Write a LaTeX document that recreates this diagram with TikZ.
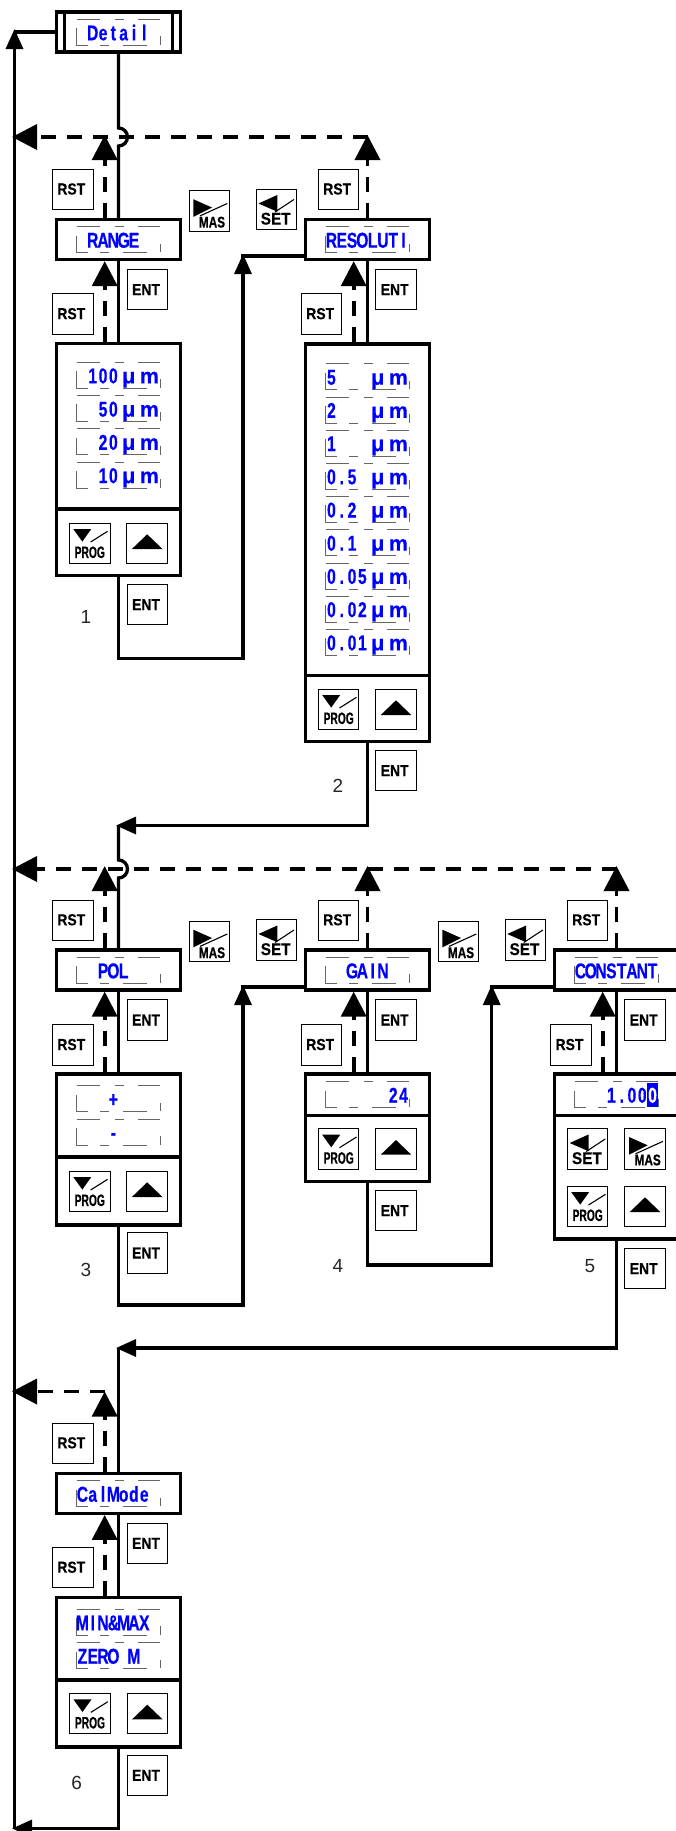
\documentclass[tikz,border=0pt]{standalone}
\usepackage{fontspec}
\usetikzlibrary{arrows.meta,calc}
\setmainfont{Liberation Sans}
\newfontfamily\lcdfont{Liberation Sans}[FakeStretch=0.73,BoldFeatures={FakeBold=0.35}]
\newfontfamily\lcdwide{Liberation Sans}[BoldFeatures={FakeBold=0.35}]
\newfontfamily\keyfont{Liberation Sans}[FakeStretch=0.87,BoldFeatures={FakeBold=0.25}]
\newfontfamily\progfont{Liberation Sans}[FakeStretch=0.62,BoldFeatures={FakeBold=0.4}]
\newfontfamily\masfont{Liberation Sans}[FakeStretch=0.76,BoldFeatures={FakeBold=0.5}]
\newfontfamily\setfont{Liberation Sans}[FakeStretch=0.9,BoldFeatures={FakeBold=0.4}]
\definecolor{lcdblue}{RGB}{0,0,255}
\newlength{\lcdcw}\setlength{\lcdcw}{10.3pt}
\def\lcdnext#1{\ifx#1\relax\else\lcdcell{#1}\expandafter\lcdnext\fi}
\def\lcdcell#1{\ifx#1_\hspace*{\lcdcw}\else\makebox[\lcdcw][c]{#1}\fi}
\newcommand{\lcdrow}[1]{\lcdnext#1\relax}
\newcommand{\lcdum}{\makebox[2\lcdcw][c]{\lcdwide\bfseries μ}\makebox[2\lcdcw][c]{\lcdwide\bfseries m}}
\newcommand{\lcdhl}[1]{\makebox[\lcdcw][c]{\textcolor{white}{#1}}}
\tikzset{
  bigtip/.tip={Triangle[length=25pt,width=25pt]},
  midtip/.tip={Triangle[length=20pt,width=17pt]},
  flow/.style={draw=black,line width=3.3pt},
  dashflow/.style={draw=black,line width=3.7pt,dash pattern=on 15pt off 11pt},
  dispbox/.style={draw=black,line width=3.3pt,fill=white,minimum width=124pt,inner sep=0pt},
  btn/.style={draw=black,line width=1pt,fill=white,minimum width=40.5pt,minimum height=40.5pt,inner sep=0pt},
  lcdtxt/.style={anchor=base,inner sep=0pt,text=lcdblue,font=\lcdfont\bfseries\fontsize{21.5}{21.5}\selectfont},
  seqno/.style={inner sep=0pt,text=black!85,font=\fontsize{19}{19}\selectfont},
  keytxt/.style={inner sep=0pt,text=black,font=\keyfont\bfseries\fontsize{16}{16}\selectfont},
  lcd/.pic={
    \draw[black!60,line width=.8pt]
      (-42,-13)--(-18.5,-13) (-3.5,-13)--(5.5,-13) (19.8,-13)--(41.5,-13)
      (-42,-4.2)--(-42,13)--(-31,13) (-18.5,13)--(-10,13) (4.8,13)--(28.2,13)
      (41.5,3.8)--(41.5,12.7);
    \node[lcdtxt] (-t) at (0,8) {#1};
  },
  rstbtn/.pic={\node[btn] (-b) at (0,0) {}; \node[keytxt] (-l) at (-1.5,-.5) {RST};},
  entbtn/.pic={\node[btn] (-b) at (0,0) {}; \node[keytxt] (-l) at (-1.3,0) {ENT};},
  upbtn/.pic={\node[btn] (-b) at (0,0) {}; \fill (0,-9)--(-15.3,5.7)--(15.3,5.7)--cycle;},
  progbtn/.pic={\node[btn] (-b) at (0,0) {};
    \fill (-16.5,-14.3)--(1.5,-14.3)--(-7.5,-1.7)--cycle;
    \draw[line width=1.1pt] (.8,-1.3)--(17.8,-12);
    \node[inner sep=0pt,font=\progfont\bfseries\fontsize{16.5}{16.5}\selectfont] (-l) at (0,9) {PROG};},
  masbtn/.pic={\node[btn] (-b) at (0,0) {};
    \fill (-16,-12)--(-16,5.7)--(2.7,-3.7)--cycle;
    \draw[line width=1.1pt] (-9.3,4.7)--(18,-7.7);
    \node[inner sep=0pt,font=\masfont\bfseries\fontsize{15.5}{15.5}\selectfont] (-l) at (2.7,11) {MAS};},
  setbtn/.pic={\node[btn] (-b) at (0,0) {};
    \fill (-18,-6)--(.8,-14.5)--(.8,2.2)--cycle;
    \draw[line width=1.1pt] (-1.5,2.5)--(17.5,-10);
    \node[inner sep=0pt,font=\setfont\bfseries\fontsize{17}{17}\selectfont] (-l) at (-.8,9.2) {SET};},
}
\begin{document}
\begin{tikzpicture}[x=1pt,y=-1pt]
\useasboundingbox (0,0) rectangle (676,1831);
\clip (0,0) rectangle (676,1831);
\fill[white] (0,0) rectangle (676,1831);

% boxes
\node[dispbox,minimum height=40pt] (detail) at (118.5,32) {};
\draw[line width=3pt] (64,12)--(64,52) (172.7,12)--(172.7,52);
\node[dispbox,minimum height=40pt] (range) at (118.5,239.5) {};
\node[dispbox,minimum height=40pt] (resoluti) at (367.5,239.5) {};
\node[dispbox,minimum height=232pt] (p1) at (118.5,459.7) {};
\node[dispbox,minimum height=397.5pt] (p2) at (367.5,542.7) {};
\draw[flow] (56.5,509)--(180.5,509) (305.5,675.5)--(429.5,675.5);
\node[dispbox,minimum height=40pt] (pol) at (118.5,970) {};
\node[dispbox,minimum height=40pt] (gain) at (367.5,970) {};
\node[dispbox,minimum height=40pt] (constant) at (616.5,970) {};
\node[dispbox,minimum height=151pt] (p3) at (118.5,1149.5) {};
\node[dispbox,minimum height=107.5pt] (p4) at (367.5,1127.7) {};
\node[dispbox,minimum height=165pt] (p5) at (616.5,1156.5) {};
\draw[flow] (56.5,1157)--(180.5,1157) (305.5,1115.5)--(429.5,1115.5) (554.5,1115.5)--(678.5,1115.5);
\node[dispbox,minimum height=40pt] (calmode) at (118.5,1493.3) {};
\node[dispbox,minimum height=149.5pt] (p6) at (118.5,1672.3) {};
\draw[flow] (56.5,1680)--(180.5,1680);

% way points
\coordinate (topup) at (14.5,29);
\coordinate (botleft) at (12,1828.5);
\coordinate (botmid) at (118.5,1828.5);
\coordinate (dl1) at (12,137);     \coordinate (dr1) at (367.5,137);
\coordinate (jump1) at (118.5,137);
\coordinate (tip1a) at (104.7,135); \coordinate (tip1b) at (367.5,135);
\coordinate (c1) at (243,658.5);   \coordinate (a1) at (243,254); \coordinate (h1) at (241.4,256);
\coordinate (c2) at (367.5,825.5); \coordinate (m2) at (116,825.5); \coordinate (n2) at (118.5,825.5);
\coordinate (dl2) at (12,869);     \coordinate (dr2) at (616.5,869);
\coordinate (jump2) at (118.5,869);
\coordinate (tip2a) at (104.7,866); \coordinate (tip2b) at (367.5,866); \coordinate (tip2c) at (616.5,866);
\coordinate (c3) at (243,1305);    \coordinate (a3) at (243,985); \coordinate (h3) at (241.4,987);
\coordinate (c4) at (491.7,1265);  \coordinate (a4) at (491.7,985); \coordinate (h4) at (490.1,987);
\coordinate (c5) at (616.5,1348);  \coordinate (m5) at (116,1348); \coordinate (n5) at (118.5,1348);
\coordinate (dl3) at (12,1391.5);  \coordinate (dr3) at (104.7,1391.5);

% solid connectors
\draw[flow,-midtip] (botmid -| topup) -- (topup);
\draw[flow,-midtip] (p6.south) -- (botmid) -- (botleft);
\draw[flow] (detail.west) -- (detail.west -| topup);
\draw[flow] (detail.south) -- ([yshift=9pt]jump1) arc[start angle=90,end angle=-90,radius=9pt] -- (range.north);
\draw[flow] (range.south) -- (p1.north);
\draw[flow,-midtip] (p1.south) |- (c1) -- (a1);
\draw[flow] (resoluti.west |- h1) -- (h1);
\draw[flow] (resoluti.south) -- (p2.north);
\draw[flow,-midtip] (p2.south) -- (c2) -- (m2);
\draw[flow] (n2) -- ([yshift=9pt]jump2) arc[start angle=90,end angle=-90,radius=9pt] -- (pol.north);
\draw[flow] (pol.south) -- (p3.north);
\draw[flow,-midtip] (p3.south) |- (c3) -- (a3);
\draw[flow] (gain.west |- h3) -- (h3);
\draw[flow] (gain.south) -- (p4.north);
\draw[flow,-midtip] (p4.south) |- (c4) -- (a4);
\draw[flow] (constant.west |- h4) -- (h4);
\draw[flow] (constant.south) -- (p5.north);
\draw[flow,-midtip] (p5.south) -- (c5) -- (m5);
\draw[flow] (n5) -- (calmode.north);
\draw[flow] (calmode.south) -- (p6.north);

% dashed connectors
\draw[dashflow,-bigtip] (dr1) -- (dl1);
\draw[dashflow,-bigtip] ([xshift=-13.8pt]range.north) -- (tip1a);
\draw[dashflow,-bigtip] (resoluti.north) -- (tip1b);
\draw[dashflow,-bigtip] ([xshift=-13.8pt]p1.north) -- ([xshift=-13.8pt]range.south);
\draw[dashflow,-bigtip] ([xshift=-13.8pt]p2.north) -- ([xshift=-13.8pt]resoluti.south);
\draw[dashflow,-bigtip] (dr2) -- (dl2);
\draw[dashflow,-bigtip] ([xshift=-13.8pt]pol.north) -- (tip2a);
\draw[dashflow,-bigtip] (gain.north) -- (tip2b);
\draw[dashflow,-bigtip] (constant.north) -- (tip2c);
\draw[dashflow,-bigtip] ([xshift=-13.8pt]p3.north) -- ([xshift=-13.8pt]pol.south);
\draw[dashflow,-bigtip] ([xshift=-13.8pt]p4.north) -- ([xshift=-13.8pt]gain.south);
\draw[dashflow,-bigtip] ([xshift=-13.8pt]p5.north) -- ([xshift=-13.8pt]constant.south);
\draw[dashflow,-bigtip] (dr3) -- (dl3);
\draw[dashflow,-bigtip] ([xshift=-13.8pt]calmode.north) -- (dr3);
\draw[dashflow,-bigtip] ([xshift=-13.8pt]p6.north) -- ([xshift=-13.8pt]calmode.south);

% displays
\pic (tdetail) at (118.5,32.3) {lcd={\lcdrow{_Detail_}}};
\pic (trange) at (118.5,239.7) {lcd={\lcdrow{_RANGE__}}};
\pic (tresol) at (367.5,239.7) {lcd={\lcdrow{RESOLUTI}}};
\pic (u1a) at (118.5,375.3) {lcd={\lcdrow{_100}\lcdum}};
\pic (u1b) at (118.5,408.6) {lcd={\lcdrow{__50}\lcdum}};
\pic (u1c) at (118.5,441.8) {lcd={\lcdrow{__20}\lcdum}};
\pic (u1d) at (118.5,475.1) {lcd={\lcdrow{__10}\lcdum}};
\pic (u2a) at (367.5,376.7) {lcd={\lcdrow{5___}\lcdum}};
\pic (u2b) at (367.5,409.9) {lcd={\lcdrow{2___}\lcdum}};
\pic (u2c) at (367.5,443.1) {lcd={\lcdrow{1___}\lcdum}};
\pic (u2d) at (367.5,476.3) {lcd={\lcdrow{0.5_}\lcdum}};
\pic (u2e) at (367.5,509.5) {lcd={\lcdrow{0.2_}\lcdum}};
\pic (u2f) at (367.5,542.7) {lcd={\lcdrow{0.1_}\lcdum}};
\pic (u2g) at (367.5,575.9) {lcd={\lcdrow{0.05}\lcdum}};
\pic (u2h) at (367.5,609.1) {lcd={\lcdrow{0.02}\lcdum}};
\pic (u2i) at (367.5,642.3) {lcd={\lcdrow{0.01}\lcdum}};
\pic (tpol) at (118.5,970.3) {lcd={\lcdrow{__POL___}}};
\pic (tgain) at (367.5,970.3) {lcd={\lcdrow{__GAIN__}}};
\pic (tconst) at (616.5,970.3) {lcd={\lcdrow{CONSTANT}}};
\pic (splus) at (118.5,1098.7) {lcd={\lcdrow{___+____}}};
\pic (sminus) at (118.5,1132) {lcd={\lcdrow{___-____}}};
\pic (v24) at (367.5,1094.7) {lcd={\lcdrow{______24}}};
\fill[lcdblue] (647.3,1083) rectangle (658,1107);
\pic (v1000) at (616.5,1094.7) {lcd={\lcdrow{___1.00}\lcdhl{0}}};
\pic (tcal) at (118.5,1493.7) {lcd={\lcdrow{CalMode_}}};
\pic (mmm) at (118.5,1622.3) {lcd={\lcdrow{MIN\&MAX_}}};
\pic (mzero) at (118.5,1655.7) {lcd={\lcdrow{ZERO_M__}}};

% keys, row 1
\pic (k1) at (72.8,189.5) {rstbtn};
\pic (k2) at (72.8,314.2) {rstbtn};
\pic (k3) at (147.3,289.7) {entbtn};
\pic (k4) at (209.3,211.2) {masbtn};
\pic (k5) at (276.5,209.5) {setbtn};
\pic (k6) at (338.7,189.5) {rstbtn};
\pic (k7) at (321.7,314.2) {rstbtn};
\pic (k8) at (396,289.7) {entbtn};
\pic (k9) at (89.8,543.3) {progbtn};
\pic (k10) at (147.2,543.3) {upbtn};
\pic (k11) at (147.3,604.7) {entbtn};
\pic (k12) at (338.7,709.3) {progbtn};
\pic (k13) at (396,709.3) {upbtn};
\pic (k14) at (396,770.7) {entbtn};
% keys, row 2
\pic (k15) at (72.8,920.3) {rstbtn};
\pic (k16) at (72.8,1045) {rstbtn};
\pic (k17) at (147.3,1020) {entbtn};
\pic (k18) at (209.3,941.7) {masbtn};
\pic (k19) at (276.5,940) {setbtn};
\pic (k20) at (338.7,920.3) {rstbtn};
\pic (k21) at (321.7,1045) {rstbtn};
\pic (k22) at (396,1020) {entbtn};
\pic (k23) at (458.3,941.7) {masbtn};
\pic (k24) at (525.3,940) {setbtn};
\pic (k25) at (587.7,920.3) {rstbtn};
\pic (k26) at (571,1045) {rstbtn};
\pic (k27) at (645,1020) {entbtn};
\pic (k28) at (89.8,1191.3) {progbtn};
\pic (k29) at (147.2,1191.3) {upbtn};
\pic (k30) at (147.3,1253) {entbtn};
\pic (k31) at (338.7,1149) {progbtn};
\pic (k32) at (396,1149) {upbtn};
\pic (k33) at (396,1210.7) {entbtn};
\pic (k34) at (587.7,1149) {setbtn};
\pic (k35) at (645,1149) {masbtn};
\pic (k36) at (587.7,1206.3) {progbtn};
\pic (k37) at (645,1206.3) {upbtn};
\pic (k38) at (645,1268.7) {entbtn};
% keys, row 3
\pic (k39) at (72.8,1443.3) {rstbtn};
\pic (k40) at (72.8,1567.7) {rstbtn};
\pic (k41) at (147.3,1543.3) {entbtn};
\pic (k42) at (90,1713.7) {progbtn};
\pic (k43) at (147.3,1713.7) {upbtn};
\pic (k44) at (147.3,1775.3) {entbtn};

% sequence numbers
\node[seqno] (n1) at (86,617) {1};
\node[seqno] (n2t) at (338,786) {2};
\node[seqno] (n3) at (86,1270) {3};
\node[seqno] (n4) at (338,1266) {4};
\node[seqno] (n5t) at (590,1266) {5};
\node[seqno] (n6) at (76.7,1783) {6};
\end{tikzpicture}
\end{document}
